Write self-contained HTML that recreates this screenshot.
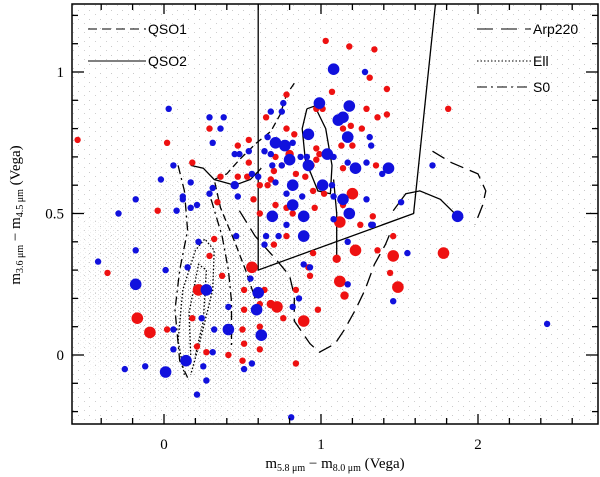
<!DOCTYPE html>
<html><head><meta charset="utf-8"><style>
html,body{margin:0;padding:0;background:#fff;}
svg{display:block;font-family:"Liberation Serif",serif;}
</style></head><body>
<svg id="chart" width="600" height="477" viewBox="0 0 600 477" xmlns="http://www.w3.org/2000/svg">
<defs>
<pattern id="noise" width="11" height="9" patternUnits="userSpaceOnUse">
<rect x="1" y="1" width="1" height="1" fill="#777"/><rect x="7" y="5" width="1" height="1" fill="#888"/>
</pattern>
<pattern id="noise2" width="5" height="4" patternUnits="userSpaceOnUse">
<rect x="0" y="0" width="1" height="1" fill="#666"/><rect x="3" y="2" width="1" height="1" fill="#777"/>
</pattern>
<radialGradient id="fade"><stop offset="0" stop-color="#fff" stop-opacity="1"/><stop offset="1" stop-color="#fff" stop-opacity="0"/></radialGradient>
<mask id="m1"><ellipse cx="215" cy="290" rx="165" ry="145" fill="url(#fade)"/></mask>
<clipPath id="clip"><rect x="72" y="4" width="526" height="420"/></clipPath>
</defs>
<g id="bg" clip-path="url(#clip)">
<rect x="72" y="4" width="526" height="420" fill="url(#noise)" opacity="0.4"/>
<rect x="40" y="130" width="360" height="300" fill="url(#noise2)" mask="url(#m1)" opacity="0.75"/>
</g>
<g id="tracks" clip-path="url(#clip)"></g>
<g id="pts" clip-path="url(#clip)"></g>
<g id="axes"></g>
<g id="legend" font-family="Liberation Sans, sans-serif" font-size="14">
<line x1="88" y1="29" x2="146" y2="29" stroke="#000" stroke-dasharray="9,5"/>
<text x="148" y="34">QSO1</text>
<line x1="88" y1="61" x2="146" y2="61" stroke="#000"/>
<text x="148" y="66">QSO2</text>
<line x1="477" y1="29" x2="531" y2="29" stroke="#000" stroke-dasharray="16,8"/>
<text x="533" y="34">Arp220</text>
<line x1="477" y1="61" x2="531" y2="61" stroke="#000" stroke-dasharray="1.5,2"/>
<text x="533" y="66">Ell</text>
<line x1="477" y1="87" x2="531" y2="87" stroke="#000" stroke-dasharray="10,4,2,4"/>
<text x="533" y="92">S0</text>
</g>
<text x="335" y="468" font-size="15" text-anchor="middle">m<tspan font-size="10" dy="3">5.8 μm</tspan><tspan dy="-3"> − m</tspan><tspan font-size="10" dy="3">8.0 μm</tspan><tspan dy="-3">  (Vega)</tspan></text>
<text transform="translate(20,215) rotate(-90)" font-size="15" text-anchor="middle">m<tspan font-size="10" dy="3">3.6 μm</tspan><tspan dy="-3"> − m</tspan><tspan font-size="10" dy="3">4.5 μm</tspan><tspan dy="-3">  (Vega)</tspan></text>
</svg>
<script>
const redX=[1.03,1.18,1.34,1.07,1.31,1.42,1.29,1.36,1.42,1.26,1.19,1.14,1.01,0.97,0.78,0.65,0.78,0.83,0.54,0.47,0.29,0.02,0.18,0.36,0.54,0.53,0.47,0.80,0.71,0.75,0.97,0.99,0.97,0.94,1.13,1.20,1.14,1.35,0.70,0.68,0.61,0.66,0.84,0.90,0.95,1.02,1.20,0.57,0.34,0.71,0.78,0.61,0.82,1.12,1.25,1.33,0.96,1.14,-0.55,-0.04,-0.36,-0.17,-0.09,0.02,0.32,0.29,0.22,0.18,0.21,0.37,0.56,0.51,0.51,0.64,0.61,0.68,0.72,0.76,0.84,0.89,0.98,0.50,0.61,0.51,0.61,0.41,0.27,0.50,0.84,0.95,0.92,0.93,0.70,0.78,1.10,1.22,1.12,1.15,1.46,1.44,1.49,1.46,1.36,1.81,1.78];
const redY=[1.11,1.09,1.08,0.93,0.98,0.94,0.87,0.84,0.85,0.80,0.81,0.80,0.87,0.87,0.92,0.84,0.80,0.78,0.76,0.74,0.80,0.75,0.68,0.63,0.68,0.63,0.63,0.71,0.70,0.67,0.73,0.71,0.69,0.67,0.74,0.74,0.66,0.67,0.65,0.62,0.60,0.60,0.64,0.63,0.58,0.57,0.57,0.55,0.54,0.53,0.52,0.50,0.50,0.47,0.46,0.49,0.52,0.53,0.76,0.51,0.29,0.13,0.08,0.09,0.41,0.35,0.23,0.13,0.03,0.28,0.31,0.23,0.16,0.23,0.18,0.18,0.17,0.13,0.23,0.12,0.16,0.09,0.10,0.04,0.02,0.00,0.01,-0.02,-0.03,0.36,0.31,0.28,0.39,0.42,0.34,0.37,0.26,0.21,0.35,0.29,0.24,0.42,0.37,0.87,0.36];
const redSize=[1,1,1,1,1,1,1,1,1,1,1,1,1,1,1,1,1,1,1,1,1,1,1,1,1,1,1,2,1,1,1,1,1,1,1,1,1,1,1,1,1,1,1,1,1,1,3,1,1,1,1,1,1,3,1,1,1,1,1,1,1,3,3,1,1,1,3,1,1,1,3,1,1,1,1,2,3,1,1,3,1,1,1,1,1,1,1,1,1,1,1,1,1,1,2,3,3,2,3,1,3,1,1,1,3];
const blueX=[1.08,1.28,1.18,0.99,1.11,1.14,0.76,0.68,0.75,0.03,0.29,0.38,0.36,0.31,0.71,0.77,0.66,0.82,0.92,1.17,1.31,1.32,0.45,0.48,0.54,0.64,0.68,0.87,0.80,0.91,0.92,1.04,1.08,0.75,0.69,1.17,1.22,1.29,1.43,1.39,0.06,0.17,0.31,0.29,0.45,0.47,0.56,0.60,0.71,0.78,0.82,0.88,1.01,1.07,1.08,1.14,1.29,1.51,0.12,0.21,0.17,0.08,0.82,0.69,0.89,1.18,1.08,0.78,1.32,-0.02,-0.18,-0.29,-0.42,0.12,-0.18,-0.18,0.01,0.15,0.22,0.46,0.64,0.73,0.65,0.89,0.55,0.60,0.27,0.41,0.59,0.82,0.86,0.24,0.32,0.41,0.62,0.06,0.06,0.14,0.25,0.31,0.56,0.51,0.01,-0.12,-0.25,0.27,0.21,0.81,0.89,0.93,1.17,1.17,1.55,1.46,1.33,1.71,1.87,2.44];
const blueY=[1.01,1.00,0.88,0.89,0.83,0.84,0.89,0.86,0.86,0.87,0.84,0.84,0.80,0.75,0.75,0.74,0.77,0.75,0.78,0.77,0.77,0.74,0.71,0.71,0.72,0.72,0.71,0.70,0.69,0.70,0.67,0.71,0.70,0.67,0.67,0.68,0.66,0.68,0.66,0.64,0.67,0.61,0.59,0.57,0.60,0.56,0.64,0.63,0.61,0.57,0.60,0.56,0.60,0.60,0.56,0.55,0.55,0.54,0.55,0.53,0.52,0.51,0.53,0.49,0.49,0.50,0.48,0.46,0.46,0.62,0.55,0.50,0.33,0.56,0.37,0.25,0.30,0.31,0.40,0.42,0.39,0.42,0.42,0.42,0.27,0.22,0.23,0.17,0.16,0.17,0.20,0.13,0.09,0.09,0.07,0.09,0.02,-0.02,-0.04,0.01,-0.03,-0.05,-0.06,-0.04,-0.05,-0.09,-0.14,-0.22,0.32,0.31,0.40,0.25,0.36,0.19,0.46,0.67,0.49,0.11];
const blueSize=[3,1,3,3,3,3,1,1,1,1,1,1,1,1,3,3,1,1,3,3,1,1,1,1,1,1,1,1,3,1,3,3,1,1,1,1,3,1,3,1,1,1,1,1,2,1,1,1,1,1,3,1,3,1,1,3,1,1,1,1,1,1,3,3,3,3,1,1,1,1,1,1,1,1,1,3,1,1,1,1,1,1,1,3,1,3,3,1,3,1,1,1,1,3,3,1,1,3,1,1,1,1,3,1,1,1,1,1,1,1,1,1,1,1,1,1,3,1];
const qso2Loop=[[0.91,0.87],[0.88,0.80],[0.90,0.69],[0.98,0.58],[1.06,0.57],[1.07,0.67],[1.03,0.80],[0.96,0.88],[0.91,0.87]];
const qso2Tail=[[1.08,0.62],[1.10,0.50],[1.10,0.35]];
const qso2Left=[[0.17,0.67],[0.25,0.66],[0.32,0.62],[0.45,0.60],[0.55,0.62],[0.62,0.66]];
const qso1Track=[[0.83,0.96],[0.78,0.92],[0.74,0.85],[0.68,0.79],[0.59,0.75],[0.48,0.69],[0.40,0.64],[0.32,0.62],[0.36,0.52],[0.45,0.40],[0.52,0.30],[0.58,0.20]];
const arpLoop=[[0.48,0.51],[0.58,0.42],[0.71,0.34],[0.80,0.28],[0.83,0.21],[0.83,0.12],[0.93,0.04],[0.99,0.01],[1.09,0.04],[1.15,0.09],[1.22,0.16],[1.28,0.23],[1.34,0.32],[1.41,0.39],[1.44,0.43]];
const arpRight=[[1.71,0.72],[1.83,0.68],[2.00,0.64],[2.05,0.58],[2.03,0.53],[1.98,0.46]];
const arpArc=[[1.46,0.51],[1.54,0.57],[1.63,0.58],[1.76,0.55],[1.87,0.49]];
const ellLoop=[[0.13,-0.07],[0.09,0.05],[0.12,0.23],[0.20,0.37],[0.26,0.41],[0.32,0.37],[0.31,0.23],[0.23,0.05],[0.17,-0.07]];
const ellInner=[[0.17,0.00],[0.16,0.15],[0.22,0.32],[0.27,0.30],[0.25,0.12],[0.20,0.00]];
const s0Track=[[0.09,0.67],[0.13,0.58],[0.15,0.44],[0.10,0.30],[0.07,0.16],[0.10,-0.02],[0.15,-0.08]];
const s0Right=[[0.30,0.55],[0.37,0.42],[0.41,0.30],[0.43,0.19],[0.43,0.02]];
const wedge=[[0.6,1.3],[0.6,0.30],[1.59,0.50],[1.74,1.3]];
const xTicks=[0,1,2];
const yTicks=[0,0.5,1];
const yTickLabels=["0","0.5","1"];

const NS="http://www.w3.org/2000/svg";
const L=72,R=598,T=4,B=424;
const sx=v=>164+157*v;
const sy=v=>355-283*v;
function mk(tag,attrs,parent){const e=document.createElementNS(NS,tag);for(const k in attrs)e.setAttribute(k,attrs[k]);parent.appendChild(e);return e;}
const tracks=document.getElementById('tracks');
function track(pts,dash,name){
  const d=pts.map((p,i)=>(i?'L':'M')+sx(p[0]).toFixed(1)+','+sy(p[1]).toFixed(1)).join(' ');
  const p=mk('path',{d:d,fill:'none',stroke:'#000','stroke-width':1.3,'stroke-dasharray':dash},tracks);
  
  
}
track(wedge,'none','selection-wedge');
track(qso2Loop,'none','qso2-track-loop');
track(qso2Tail,'none','qso2-track-tail');
track(qso2Left,'none','qso2-track-left');
track(qso1Track,'7,4','qso1-track');
track(arpLoop,'14,7','arp220-track-loop');
track(arpRight,'14,7','arp220-track-right');
track(arpArc,'none','arp220-track-arc');
track(ellLoop,'1.5,2','ell-track-loop');
track(ellInner,'1.5,2','ell-track-inner');
track(s0Track,'9,4,2,4','s0-track');
track(s0Right,'9,4,2,4','s0-track-right');

const pts=document.getElementById('pts');
const rad=[0,3.2,4.2,5.8];
function series(xs,ys,ss,color,name){
  for(let i=0;i<xs.length;i++){
    const c=mk('circle',{cx:sx(xs[i]).toFixed(1),cy:sy(ys[i]).toFixed(1),r:rad[ss[i]||1],fill:color},pts);
    
    
  }
}
series(redX,redY,redSize,'#ee1111','red-source');
series(blueX,blueY,blueSize,'#1111dd','blue-source');

const ax=document.getElementById('axes');
const fr=mk('rect',{x:L,y:T,width:R-L,height:B-T,fill:'none',stroke:'#000','stroke-width':1.5},ax);


for(let v=-0.6;v<=2.8;v+=0.2){
  const x=sx(v);if(x<L+1||x>R-1)continue;
  const maj=Math.abs(v-Math.round(v))<0.01;const len=maj?10:6;
  mk('line',{x1:x,y1:B,x2:x,y2:B-len,stroke:'#000','stroke-width':1.3},ax);
  mk('line',{x1:x,y1:T,x2:x,y2:T+len,stroke:'#000','stroke-width':1.3},ax);
}
for(let v=-0.2;v<=1.25;v+=0.1){
  const y=sy(v);if(y<T+1||y>B-1)continue;
  const maj=Math.abs(v*2-Math.round(v*2))<0.01;const len=maj?12:6;
  mk('line',{x1:L,y1:y,x2:L+len,y2:y,stroke:'#000','stroke-width':1.3},ax);
  mk('line',{x1:R,y1:y,x2:R-len,y2:y,stroke:'#000','stroke-width':1.3},ax);
}
xTicks.forEach(v=>{
  const t=mk('text',{x:sx(v),y:449,'font-size':15,'text-anchor':'middle'},ax);
  t.textContent=String(v);
  
  
});
yTicks.forEach((v,i)=>{
  const t=mk('text',{x:64,y:sy(v)+5,'font-size':15,'text-anchor':'end'},ax);
  t.textContent=yTickLabels[i];
  
  
});
</script>
</body></html>
